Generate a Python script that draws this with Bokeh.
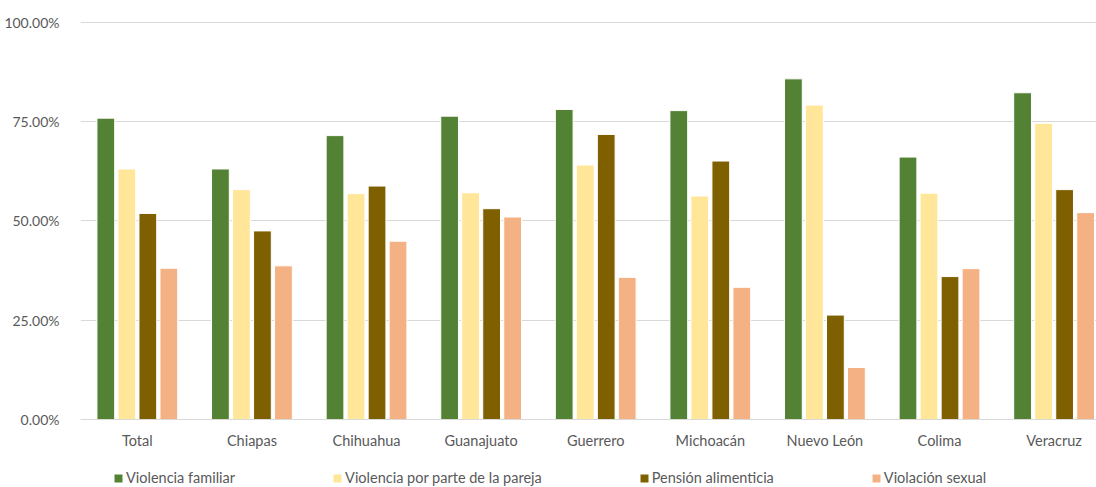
from bokeh.plotting import figure
from bokeh.layouts import column
from bokeh.models import (Range1d, FixedTicker, PrintfTickFormatter, Legend, LegendItem,
                          ColumnDataSource)
from bokeh.embed import file_html
from bokeh.resources import INLINE

categories = ["Total", "Chiapas", "Chihuahua", "Guanajuato", "Guerrero",
              "Michoacán", "Nuevo León", "Colima", "Veracruz"]
series_names = ["Violencia familiar", "Violencia por parte de la pareja",
                "Pensión alimenticia", "Violación sexual"]
violencia_familiar = [75.9, 63.1, 71.5, 76.4, 78.1, 77.8, 85.8, 66.1, 82.3]
violencia_pareja = [63.1, 57.9, 56.9, 57.1, 64.1, 56.3, 79.2, 57.0, 74.6]
pension_alimenticia = [51.9, 47.5, 58.8, 53.1, 71.8, 65.1, 26.3, 36.0, 57.9]
violacion_sexual = [38.1, 38.7, 44.9, 51.0, 35.8, 33.3, 13.1, 38.0, 52.1]
y_ticks = [0, 25, 50, 75, 100]

colors = ["#548235", "#FFE699", "#7F6000", "#F4B183"]
series = [violencia_familiar, violencia_pareja, pension_alimenticia, violacion_sexual]

FONT = "Lato"
TEXT_COLOR = "#595959"
GRID = "#d9d9d9"
W = 1096

p = figure(width=W, height=455, output_backend="svg", toolbar_location=None,
           x_range=Range1d(-0.496, 8.37), y_range=Range1d(0, 101),
           min_border_left=80, min_border_right=0, min_border_top=18, min_border_bottom=36)
p.outline_line_color = None
p.background_fill_color = "white"

idx = list(range(len(categories)))
pitch = 0.1833
for k, (vals, col) in enumerate(zip(series, colors)):
    off = (k - 1.5) * pitch
    src = ColumnDataSource(dict(x=[i + off for i in idx], top=vals))
    p.vbar(x="x", top="top", bottom=0, width=0.155, source=src,
           fill_color=col, line_color="white", line_width=1)

# axes
p.xaxis.ticker = FixedTicker(ticks=idx)
p.xaxis.major_label_overrides = {i: c for i, c in enumerate(categories)}
p.xaxis.major_tick_line_color = None
p.xaxis.minor_tick_line_color = None
p.xaxis.axis_line_color = GRID
p.xaxis.major_label_standoff = 6
p.xaxis.major_label_text_font = FONT
p.xaxis.major_label_text_font_size = "14.5px"
p.xaxis.major_label_text_color = TEXT_COLOR

p.yaxis.ticker = FixedTicker(ticks=y_ticks)
p.yaxis.formatter = PrintfTickFormatter(format="%.2f%%")
p.yaxis.major_tick_line_color = None
p.yaxis.minor_tick_line_color = None
p.yaxis.axis_line_color = None
p.yaxis.major_label_standoff = 15
p.yaxis.major_label_text_font = FONT
p.yaxis.major_label_text_font_size = "14px"
p.yaxis.major_label_text_color = TEXT_COLOR

p.xgrid.grid_line_color = None
p.ygrid.ticker = FixedTicker(ticks=y_ticks)
p.ygrid.grid_line_color = GRID
p.ygrid.grid_line_width = 1

# legend strip (proxy glyphs of zero height, outside the visible range)
lg = figure(width=W, height=32, output_backend="svg", toolbar_location=None,
            x_range=Range1d(0, 1), y_range=Range1d(0, 1),
            min_border_left=0, min_border_right=0, min_border_top=0, min_border_bottom=0)
lg.axis.visible = False
lg.grid.visible = False
lg.outline_line_color = None
items = []
for name, col in zip(series_names, colors):
    r = lg.vbar(x=[-5], top=[-5], bottom=-5, width=0.1, fill_color=col, line_color=None)
    items.append(LegendItem(label=name, renderers=[r]))
legend = Legend(items=items, orientation="horizontal", location=(33, 1),
                padding=0, margin=0, spacing=97,
                glyph_width=10, glyph_height=10, label_standoff=3,
                label_height=10, label_width=10,
                label_text_font=FONT, label_text_font_size="14.5px",
                label_text_color=TEXT_COLOR,
                background_fill_alpha=0, border_line_alpha=0)
lg.add_layout(legend, "center")

layout = column(p, lg, spacing=0)
open("out.html", "w").write(file_html(layout, INLINE))
